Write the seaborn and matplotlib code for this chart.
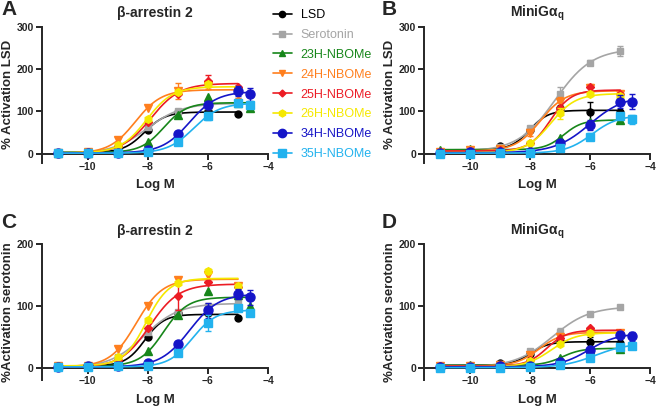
import numpy as np
import pandas as pd
import matplotlib
matplotlib.use("Agg")
import matplotlib.pyplot as plt
import seaborn as sns
from matplotlib.lines import Line2D

sns.set_theme(style="ticks")
plt.rcParams["font.family"] = ["Liberation Sans", "DejaVu Sans"]
plt.rcParams["mathtext.fontset"] = "custom"
plt.rcParams["mathtext.bf"] = "Liberation Sans:bold"
plt.rcParams["mathtext.rm"] = "Liberation Sans"

# concentrations (log M)
logM = [-11, -10, -9, -8, -7, -6, -5]
logM_ext = [-11, -10, -9, -8, -7, -6, -5, -4.6]

names = ["LSD", "Serotonin", "23H-NBOMe", "24H-NBOMe", "25H-NBOMe",
         "26H-NBOMe", "34H-NBOMe", "35H-NBOMe"]
colors = ["#000000", "#a5a5a5", "#17861a", "#ff7f1e", "#ec1c24",
          "#f5e800", "#1515c8", "#22b2ee"]
markers = ["o", "s", "^", "v", "D", "h", "o", "s"]
msizes = [5, 5, 5.5, 5.5, 4, 5.5, 6.5, 6]

# % activation LSD, beta-arrestin 2
arr_lsd = {
    "LSD": [2, 2, 12, 57, 99, 100, 93],
    "Serotonin": [2, 3, 18, 62, 101, 112, 122],
    "23H-NBOMe": [2, 2, 6, 28, 91, 133, 120, 108],
    "24H-NBOMe": [2, 3, 33, 107, 148, 160, 140],
    "25H-NBOMe": [2, 2, 17, 75, 142, 172, 158],
    "26H-NBOMe": [2, 2, 20, 82, 146, 165, 150],
    "34H-NBOMe": [1, 2, 2, 9, 46, 115, 149, 140],
    "35H-NBOMe": [1, 1, 2, 5, 28, 89, 119, 115],
}
arr_lsd_err = {
    "Serotonin": [0, 0, 0, 0, 0, 0, 10],
    "24H-NBOMe": [0, 0, 0, 0, 18, 8, 8],
    "25H-NBOMe": [0, 0, 0, 0, 0, 15, 0],
    "34H-NBOMe": [0, 0, 0, 0, 0, 0, 12, 15],
    "35H-NBOMe": [0, 0, 0, 0, 0, 10, 0, 8],
}

# % activation LSD, miniGaq
mini_lsd = {
    "LSD": [5, 8, 19, 55, 108, 99, 98],
    "Serotonin": [5, 7, 15, 61, 140, 215, 243],
    "23H-NBOMe": [8, 10, 12, 10, 38, 75, 80],
    "24H-NBOMe": [5, 8, 12, 50, 123, 155, 141],
    "25H-NBOMe": [5, 6, 8, 26, 108, 158, 141],
    "26H-NBOMe": [1, 3, 5, 26, 95, 142, 137],
    "34H-NBOMe": [2, 3, 3, 5, 25, 68, 123, 123],
    "35H-NBOMe": [0, 0, 1, 2, 13, 40, 89, 81],
}
mini_lsd_err = {
    "LSD": [0, 0, 0, 0, 0, 22, 0],
    "Serotonin": [0, 0, 0, 0, 18, 6, 12],
    "24H-NBOMe": [0, 0, 0, 8, 10, 10, 0],
    "26H-NBOMe": [0, 0, 0, 0, 12, 0, 0],
    "34H-NBOMe": [0, 0, 0, 0, 0, 12, 15, 18],
    "35H-NBOMe": [0, 0, 0, 0, 0, 8, 8, 10],
}

# % activation serotonin, beta-arrestin 2
arr_5ht = {
    "LSD": [2, 2, 10, 50, 88, 88, 81],
    "Serotonin": [2, 2, 18, 58, 91, 100, 105],
    "23H-NBOMe": [2, 2, 5, 27, 85, 124, 118, 100],
    "24H-NBOMe": [3, 3, 30, 100, 142, 150, 133],
    "25H-NBOMe": [2, 2, 12, 64, 116, 139, 131],
    "26H-NBOMe": [2, 2, 17, 77, 138, 156, 132],
    "34H-NBOMe": [1, 2, 2, 7, 38, 93, 120, 114],
    "35H-NBOMe": [1, 1, 2, 3, 23, 73, 96, 89],
}
arr_5ht_err = {
    "24H-NBOMe": [0, 0, 0, 0, 0, 10, 0],
    "25H-NBOMe": [0, 0, 0, 0, 22, 0, 0],
    "34H-NBOMe": [0, 0, 0, 0, 0, 12, 8, 12],
    "35H-NBOMe": [0, 0, 0, 0, 0, 13, 0, 0],
}

# % activation serotonin, miniGaq
mini_5ht = {
    "LSD": [2, 3, 8, 22, 44, 41, 40],
    "Serotonin": [0, 2, 6, 27, 58, 87, 98],
    "23H-NBOMe": [3, 4, 4, 5, 16, 30, 31],
    "24H-NBOMe": [2, 3, 5, 20, 50, 57, 57],
    "25H-NBOMe": [2, 2, 4, 12, 48, 64, 57],
    "26H-NBOMe": [0, 2, 3, 10, 38, 56, 55],
    "34H-NBOMe": [1, 1, 2, 2, 9, 29, 53, 51],
    "35H-NBOMe": [0, 0, 0, 1, 5, 16, 34, 35],
}
mini_5ht_err = {
    "LSD": [0, 0, 0, 0, 0, 8, 0],
    "Serotonin": [0, 0, 0, 0, 6, 0, 0],
    "34H-NBOMe": [0, 0, 0, 0, 0, 0, 0, 7],
}


def fit_curve(x, y):
    # 4-parameter logistic fit (grid over logEC50 and slope, lstsq for bottom/top)
    x = np.asarray(x, float)
    y = np.asarray(y, float)
    best = None
    for h in np.arange(0.7, 1.45, 0.05):
        for ec in np.arange(-10.5, -4.5, 0.01):
            f = 1 / (1 + 10 ** ((ec - x) * h))
            A = np.column_stack([1 - f, f])
            coef = np.linalg.lstsq(A, y, rcond=None)[0]
            sse = ((A @ coef - y) ** 2).sum()
            if best is None or sse < best[0]:
                best = (sse, ec, h, coef)
    _, ec, h, (bot, top) = best
    xs = np.linspace(x.min(), x.max(), 200)
    return xs, bot + (top - bot) / (1 + 10 ** ((ec - xs) * h))


fig = plt.figure(figsize=(6.56, 4.07), dpi=100)

panels = [
    (arr_lsd, arr_lsd_err, "β-arrestin 2", "% Activation LSD", 300, 22, -0.12,
     [42 / 656, 1 - 163 / 407, 226 / 656, (163 - 26.7) / 407]),
    (mini_lsd, mini_lsd_err, r"MiniGα$\mathbf{_q}$", "% Activation LSD", 300, 22, -0.12,
     [424.3 / 656, 1 - 163 / 407, 226 / 656, (163 - 26.7) / 407]),
    (arr_5ht, arr_5ht_err, "β-arrestin 2", "%Activation serotonin", 200, 20, -0.105,
     [42 / 656, 1 - 380 / 407, 226 / 656, (380 - 244.3) / 407]),
    (mini_5ht, mini_5ht_err, r"MiniGα$\mathbf{_q}$", "%Activation serotonin", 200, 20, -0.105,
     [424.3 / 656, 1 - 380 / 407, 226 / 656, (380 - 244.3) / 407]),
]

for data, errs, title, ylabel, ytop, yneg, xl_y, rect in panels:
    ax = fig.add_axes(rect)
    for i, name in enumerate(names):
        vals = data[name]
        xv = logM if len(vals) == 7 else logM_ext
        xs, ys = fit_curve(xv, vals)
        sns.lineplot(x=xs, y=ys, color=colors[i], lw=1.2, ax=ax, zorder=2 + i)
        err = errs.get(name, [0] * len(vals))
        err = [e if e > 0 else np.nan for e in err]
        ax.errorbar(xv, vals, yerr=err, fmt=markers[i], color=colors[i],
                    ms=msizes[i], mec=colors[i], elinewidth=1, capsize=2.5,
                    capthick=1, zorder=2.5 + i, clip_on=False)
    ax.set_xlim(-11.52, -4)
    ax.set_ylim(-yneg, ytop)
    ax.set_xticks([-10, -8, -6, -4])
    ax.set_yticks(np.arange(0, ytop + 1, 100))
    ax.spines["bottom"].set_position(("data", 0))
    ax.spines["right"].set_visible(False)
    ax.spines["top"].set_visible(False)
    for s in ["left", "bottom"]:
        ax.spines[s].set_linewidth(1.4)
    ax.tick_params(direction="out", length=4.5, width=1.4, labelsize=7.5, pad=1.5)
    for lab in ax.get_xticklabels() + ax.get_yticklabels():
        lab.set_fontweight("bold")
    ax.set_xlabel("Log M", fontsize=9.5, fontweight="bold")
    ax.set_ylabel(ylabel, fontsize=9.5, fontweight="bold", labelpad=2)
    ax.set_title(title, fontsize=10, fontweight="bold", pad=7)
    ax.xaxis.set_label_coords(0.5, xl_y)

# legend
handles = [Line2D([0], [0], color=colors[i], marker=markers[i], ms=msizes[i] - 0.5, lw=1.2)
           for i in range(len(names))]
fig.legend(handles, names, loc="upper left", bbox_to_anchor=(273 / 656, 1 - 9 / 407),
           frameon=False, fontsize=9, labelcolor=colors, handlelength=1.5,
           handletextpad=0.7, labelspacing=0.63, borderpad=0, borderaxespad=0)

for letter, x, y in [("A", 0.002, 0.999), ("B", 382 / 656, 0.999),
                     ("C", 0.002, 1 - 213 / 407), ("D", 382 / 656, 1 - 213 / 407)]:
    fig.text(x, y, letter, fontsize=15, fontweight="bold", va="top", ha="left")

fig.savefig("out.png", dpi=100)
